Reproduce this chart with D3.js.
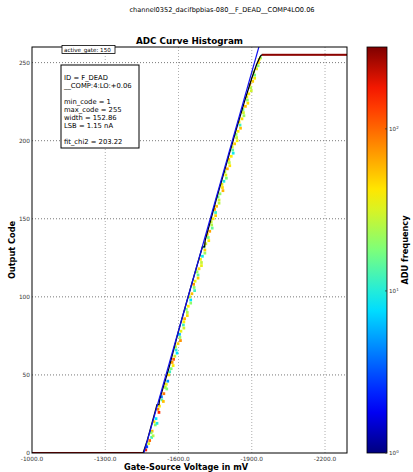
<!DOCTYPE html>
<html>
<head>
<meta charset="utf-8">
<script src="https://cdn.jsdelivr.net/npm/d3@7"></script>
<style>
  body { margin: 0; background: white; }
  text { font-family: "DejaVu Sans", sans-serif; }
</style>
</head>
<body>
<script>
// chart values
const suptitle = "channel0352_dacifbpbias-080__F_DEAD__COMP4LO0.06"
const title = "ADC Curve Histogram"
const xLabel = "Gate-Source Voltage in mV"
const yLabel = "Output Code"
const cbLabel = "ADU frequency"
const xTicks = [-1000, -1300, -1600, -1900, -2200]
const yTicks = [0, 50, 100, 150, 200, 250]
const cbTicks = [1, 10, 100]
const gateLabel = "active_gate: 150"
const infoLines = ["ID = F_DEAD", "__COMP:4:LO:+0.06", "", "min_code = 1", "max_code = 255",
  "width = 152.86", "LSB = 1.15 nA", "", "fit_chi2 = 203.22"]

// linear fit (mV, code)
const fitLine = [[-1458, 0], [-1940, 266]]

// mean ADC curve (mV, code)
const meanV = [-1455, -1472, -1500, -1512, -1520, -1522, -1560, -1600, -1650, -1698, -1707, -1709,
  -1754, -1796, -1836, -1870, -1900, -1920, -1935, -1941]
const meanCode = [0, 8, 24, 31, 31, 34, 54, 78, 106, 132, 132, 136, 162, 185, 207, 225, 240, 249, 254, 255]

// saturated rows: [from mV, to mV, code, count]
const flatRows = [[-1000, -1455, 0, 300], [-1941, -2290, 255, 300]]

// histogram cells: [mV, code, count]
const histCells = [
  [-1466, 2, 180], [-1478, 6, 30], [-1490, 10, 12], [-1492, 14, 60], [-1505, 18, 20], [-1508, 22, 8],
  [-1520, 26, 150], [-1522, 30, 40], [-1532, 34, 15], [-1540, 38, 90], [-1546, 42, 25], [-1556, 46, 5],
  [-1560, 50, 45], [-1570, 54, 18], [-1574, 58, 70], [-1585, 62, 30], [-1590, 66, 10], [-1598, 70, 50],
  [-1606, 74, 22], [-1610, 78, 35], [-1620, 82, 12], [-1625, 86, 60], [-1636, 90, 25], [-1640, 94, 40],
  [-1650, 98, 8], [-1655, 102, 55], [-1664, 106, 20], [-1668, 110, 35], [-1680, 114, 15], [-1684, 118, 45],
  [-1694, 122, 28], [-1698, 126, 9], [-1708, 130, 50], [-1712, 134, 30], [-1722, 138, 18], [-1728, 142, 65],
  [-1736, 146, 25], [-1742, 150, 40], [-1752, 154, 12], [-1756, 158, 55], [-1766, 162, 30], [-1770, 166, 20],
  [-1780, 170, 45], [-1786, 174, 10], [-1794, 178, 35], [-1800, 182, 60], [-1808, 186, 25], [-1816, 190, 40],
  [-1822, 194, 15], [-1830, 198, 50], [-1838, 202, 28], [-1844, 206, 38], [-1852, 210, 12], [-1860, 214, 45],
  [-1866, 218, 30], [-1874, 222, 55], [-1882, 226, 20], [-1888, 230, 40], [-1896, 234, 25], [-1904, 238, 50],
  [-1912, 242, 18], [-1920, 246, 35], [-1928, 250, 45], [-1936, 253, 22],
  [-1470, 4, 3], [-1482, 8, 100], [-1488, 13, 20], [-1500, 20, 45], [-1516, 28, 80], [-1530, 36, 4],
  [-1550, 44, 35], [-1564, 52, 12], [-1580, 60, 110], [-1588, 68, 25], [-1604, 76, 6], [-1622, 84, 40],
  [-1632, 92, 18], [-1646, 100, 30], [-1662, 108, 70], [-1676, 116, 22], [-1690, 124, 38], [-1704, 132, 14],
  [-1718, 140, 45], [-1734, 148, 28], [-1748, 156, 60], [-1762, 164, 16], [-1778, 172, 35], [-1790, 180, 25],
  [-1806, 188, 50], [-1820, 196, 30], [-1836, 204, 20], [-1848, 212, 40], [-1864, 220, 18], [-1880, 228, 35],
  [-1892, 236, 60], [-1908, 244, 28], [-1930, 252, 40],
  [-1496, 11, 25], [-1512, 19, 10], [-1538, 33, 55], [-1552, 41, 18], [-1578, 56, 40], [-1594, 64, 8],
  [-1608, 72, 75], [-1622, 80, 30], [-1636, 88, 45], [-1650, 96, 20], [-1666, 104, 12], [-1680, 112, 50],
  [-1694, 120, 35], [-1708, 128, 22], [-1724, 136, 40], [-1738, 144, 15], [-1752, 152, 48], [-1766, 160, 26],
  [-1782, 168, 60], [-1796, 176, 18], [-1810, 184, 42], [-1824, 192, 9], [-1840, 200, 36], [-1854, 208, 55],
  [-1868, 216, 22], [-1884, 224, 45], [-1898, 232, 30], [-1912, 240, 38], [-1926, 248, 20]
]

const width = 413
const height = 472
const marginLeft = 32
const marginRight = 66
const marginTop = 47
const marginBottom = 19
const binW = 11 // mV width of one histogram cell
const binH = 1.8 // codes height of one histogram cell

const svg = d3.select("body").append("svg")
    .attr("width", width)
    .attr("height", height)

const xScale = d3.scaleLinear().domain([-1000, -2290]).range([marginLeft, width - marginRight])
const yScale = d3.scaleLinear().domain([0, 260]).range([height - marginBottom, marginTop])

// jet colormap on a log scale
const jet = d3.scaleLinear()
    .domain([0, 0.11, 0.36, 0.5, 0.64, 0.89, 1])
    .range(["#00007f", "#0000ff", "#00e5ff", "#7dff7a", "#ffee00", "#ff1a00", "#7f0000"])
    .interpolate(d3.interpolateRgb)
const cMax = 320
const cLog = d3.scaleLog().domain([1, cMax]).range([0, 1]).clamp(true)
const color = c => jet(cLog(c))

svg.append("defs").append("clipPath").attr("id", "plotclip")
    .append("rect")
    .attr("x", marginLeft).attr("y", marginTop)
    .attr("width", width - marginRight - marginLeft)
    .attr("height", height - marginBottom - marginTop)

// grid
const grid = svg.append("g").attr("stroke", "#555").attr("stroke-width", 0.8).attr("stroke-dasharray", "1,2")
grid.selectAll(".vg").data(xTicks.slice(1)).join("line")
    .attr("x1", d => xScale(d)).attr("x2", d => xScale(d))
    .attr("y1", marginTop).attr("y2", height - marginBottom)
    .attr("stroke", "#999")
grid.selectAll(".hg").data(yTicks.slice(1)).join("line")
    .attr("y1", d => yScale(d)).attr("y2", d => yScale(d))
    .attr("x1", marginLeft).attr("x2", width - marginRight)

const plot = svg.append("g").attr("clip-path", "url(#plotclip)")

// saturated rows
plot.selectAll(".flat").data(flatRows).join("rect")
    .attr("x", d => xScale(d[0]))
    .attr("width", d => xScale(d[1]) - xScale(d[0]))
    .attr("y", d => yScale(d[2] + 0.65))
    .attr("height", d => yScale(d[2] - 0.65) - yScale(d[2] + 0.65))
    .attr("fill", d => color(d[3]))

// histogram cells
plot.selectAll(".cell").data(histCells).join("rect")
    .attr("x", d => xScale(d[0] + binW / 2))
    .attr("width", xScale(-1000 - binW) - xScale(-1000))
    .attr("y", d => yScale(d[1] + binH / 2))
    .attr("height", yScale(0) - yScale(binH))
    .attr("fill", d => color(d[2]))

// mean curve
plot.append("path")
    .datum(d3.range(meanV.length))
    .attr("fill", "none")
    .attr("stroke", "black")
    .attr("stroke-width", 1.3)
    .attr("d", d3.line().x(i => xScale(meanV[i])).y(i => yScale(meanCode[i])))

// fit
plot.append("path")
    .datum(fitLine)
    .attr("fill", "none")
    .attr("stroke", "#1010ee")
    .attr("stroke-width", 1.2)
    .attr("d", d3.line().x(d => xScale(d[0])).y(d => yScale(d[1])))

// frame
svg.append("rect")
    .attr("x", marginLeft).attr("y", marginTop)
    .attr("width", width - marginRight - marginLeft)
    .attr("height", height - marginBottom - marginTop)
    .attr("fill", "none").attr("stroke", "black").attr("stroke-width", 1)

// tick labels
svg.append("g")
    .attr("font-size", 5.8).attr("fill", "#333").attr("text-anchor", "middle")
    .selectAll("text").data(xTicks).join("text")
    .attr("x", d => xScale(d)).attr("y", height - marginBottom + 7.5)
    .text(d => d.toFixed(1))

svg.append("g")
    .attr("font-size", 5.8).attr("fill", "#333").attr("text-anchor", "end")
    .selectAll("text").data(yTicks).join("text")
    .attr("x", marginLeft - 2).attr("y", d => yScale(d) + 2)
    .text(d => d)

// titles and axis labels
svg.append("text")
    .attr("x", 222).attr("y", 12)
    .attr("text-anchor", "middle").attr("font-size", 6.6)
    .text(suptitle)

svg.append("text")
    .attr("x", (marginLeft + width - marginRight) / 2).attr("y", 44)
    .attr("text-anchor", "middle").attr("font-size", 8.8).attr("font-weight", "bold")
    .text(title)

svg.append("text")
    .attr("x", 186).attr("y", 470)
    .attr("text-anchor", "middle").attr("font-size", 8.2).attr("font-weight", "bold")
    .text(xLabel)

svg.append("text")
    .attr("transform", `translate(15, 250) rotate(-90)`)
    .attr("text-anchor", "middle").attr("font-size", 8.2).attr("font-weight", "bold")
    .text(yLabel)

// active gate label
const gate = svg.append("g")
gate.append("rect")
    .attr("x", 62).attr("y", 45.5).attr("width", 53).attr("height", 8)
    .attr("fill", "white").attr("stroke", "black").attr("stroke-width", 0.8)
gate.append("text")
    .attr("x", 64).attr("y", 51.8).attr("font-size", 5.6)
    .text(gateLabel)

// info box
svg.append("rect")
    .attr("x", 61).attr("y", 65).attr("width", 78).attr("height", 83)
    .attr("fill", "white").attr("stroke", "black").attr("stroke-width", 1)
svg.append("g")
    .attr("font-size", 6.8)
    .selectAll("text").data(infoLines).join("text")
    .attr("x", 64).attr("y", (d, i) => 79.5 + i * 8.05)
    .text(d => d)

// colorbar
const cbX = 367, cbW = 20
const cbScale = d3.scaleLog().domain([1, cMax]).range([height - marginBottom, marginTop])
const grad = svg.select("defs").append("linearGradient")
    .attr("id", "jetgrad").attr("x1", 0).attr("y1", 1).attr("x2", 0).attr("y2", 0)
grad.selectAll("stop").data(d3.range(0, 1.0001, 0.05)).join("stop")
    .attr("offset", d => d)
    .attr("stop-color", d => jet(d))
svg.append("rect")
    .attr("x", cbX).attr("y", marginTop)
    .attr("width", cbW).attr("height", height - marginBottom - marginTop)
    .attr("fill", "url(#jetgrad)")
    .attr("stroke", "black").attr("stroke-width", 0.8)

const cbt = svg.append("g").selectAll("g").data(cbTicks).join("g")
    .attr("transform", d => `translate(${cbX + cbW}, ${cbScale(d)})`)
cbt.append("line").attr("x1", -2).attr("x2", 0).attr("stroke", "#333").attr("stroke-width", 0.8)
const cbText = cbt.append("text").attr("x", 2).attr("y", 2.2).attr("font-size", 5.6).attr("fill", "#333")
cbText.append("tspan").text("10")
cbText.append("tspan").attr("dy", -2.5).attr("font-size", 4).text(d => Math.round(Math.log10(d)))

svg.append("text")
    .attr("transform", `translate(408, 250) rotate(-90)`)
    .attr("text-anchor", "middle").attr("font-size", 8.2).attr("font-weight", "bold")
    .text(cbLabel)
</script>
</body>
</html>
